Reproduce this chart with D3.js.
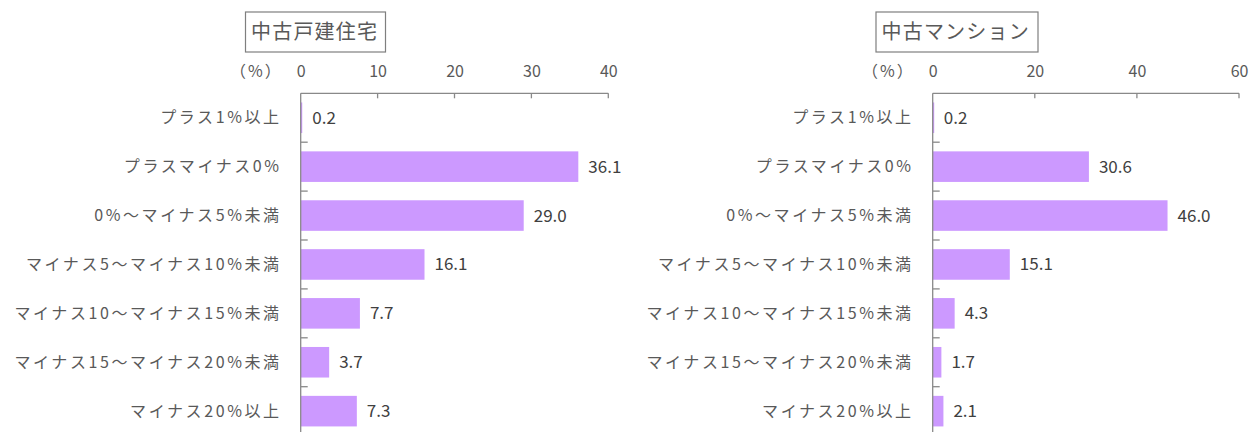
<!DOCTYPE html>
<html>
<head>
<meta charset="utf-8">
<script src="https://cdn.jsdelivr.net/npm/d3@7"></script>
<style>
  html, body { margin: 0; padding: 0; background: #fff; }
  svg { display: block; font-family: "Noto Sans CJK JP", "Noto Sans", sans-serif; }
</style>
</head>
<body>
<svg id="chart" width="1250" height="432"></svg>
<script>
// Price change categories (same for both panels)
const categories = [
  "プラス1%以上",
  "プラスマイナス0%",
  "0%〜マイナス5%未満",
  "マイナス5〜マイナス10%未満",
  "マイナス10〜マイナス15%未満",
  "マイナス15〜マイナス20%未満",
  "マイナス20%以上"
];

// Share of responses (%) per category
const detachedValues = [0.2, 36.1, 29.0, 16.1, 7.7, 3.7, 7.3];
const condoValues    = [0.2, 30.6, 46.0, 15.1, 4.3, 1.7, 2.1];

const detachedTicks = [0, 10, 20, 30, 40];
const condoTicks    = [0, 20, 40, 60];

const panelTitles = ["中古戸建住宅", "中古マンション"];
const unitLabel = "（%）";

const svg = d3.select("#chart");
const axisColor = "#898989";
const textColor = "#595959";
const valueColor = "#404040";
const barColor = "#CC99FF";

function drawPanel(cfg) {
  const g = svg.append("g");
  const x = d3.scaleLinear().domain([0, cfg.max]).range([cfg.x0, cfg.x1]);
  const y = d3.scaleBand().domain(categories).range([cfg.top, cfg.top + 7 * 48.9])
    .paddingInner(0.375).paddingOuter(0.1875);

  // title box
  g.append("rect")
    .attr("x", cfg.titleX + 0.5)
    .attr("y", 12)
    .attr("width", cfg.titleW)
    .attr("height", 40)
    .attr("fill", "#fff")
    .attr("stroke", "#7f7f7f")
    .attr("stroke-width", 1.2);
  g.append("text")
    .attr("x", cfg.titleX + 6)
    .attr("y", 38.5)
    .attr("font-size", 20)
    .attr("letter-spacing", 1.2)
    .attr("fill", textColor)
    .text(cfg.title);

  // unit label
  g.append("text")
    .attr("x", cfg.x0 - 18)
    .attr("y", 71)
    .attr("dy", "0.35em")
    .attr("text-anchor", "end")
    .attr("font-size", 16)
    .attr("letter-spacing", 2)
    .attr("fill", textColor)
    .text(unitLabel);

  // top value axis
  const xAxis = d3.axisTop(x).tickValues(cfg.ticks).tickSize(0).tickPadding(0).tickFormat(d3.format("d"));
  const xa = g.append("g").attr("transform", `translate(0,${cfg.top})`).call(xAxis);
  xa.select(".domain").remove();
  xa.selectAll("text")
    .attr("y", 71 - cfg.top)
    .attr("dy", "0.35em")
    .attr("font-size", 16)
    .attr("font-family", "\"Noto Sans CJK JP\", sans-serif")
    .attr("fill", textColor);
  g.append("line")
    .attr("x1", x(0)).attr("x2", x(cfg.max))
    .attr("y1", cfg.top).attr("y2", cfg.top)
    .attr("stroke", axisColor).attr("stroke-width", 1.3);
  g.selectAll("line.xtick").data(cfg.ticks.filter(d => d > 0)).join("line")
    .attr("class", "xtick")
    .attr("x1", d => x(d)).attr("x2", d => x(d))
    .attr("y1", cfg.top).attr("y2", cfg.top + 5)
    .attr("stroke", axisColor).attr("stroke-width", 1.3);

  // bars
  g.selectAll("rect.bar").data(cfg.values).join("rect")
    .attr("class", "bar")
    .attr("x", x(0))
    .attr("y", (d, i) => y(categories[i]))
    .attr("width", d => Math.max(x(d) - x(0), 1.5))
    .attr("height", y.bandwidth())
    .attr("fill", barColor);

  // category axis with boundary ticks
  const step = y.step();
  g.append("line")
    .attr("x1", x(0)).attr("x2", x(0))
    .attr("y1", cfg.top).attr("y2", cfg.top + 7 * step)
    .attr("stroke", axisColor).attr("stroke-width", 1.3);
  g.selectAll("line.ytick").data(d3.range(1, 8)).join("line")
    .attr("class", "ytick")
    .attr("x1", x(0)).attr("x2", x(0) + 7)
    .attr("y1", i => cfg.top + i * step).attr("y2", i => cfg.top + i * step)
    .attr("stroke", axisColor).attr("stroke-width", 1.3);

  // category labels
  g.selectAll("text.cat").data(categories).join("text")
    .attr("class", "cat")
    .attr("x", x(0) - 19)
    .attr("y", d => y(d) + y.bandwidth() / 2)
    .attr("dy", "0.35em")
    .attr("text-anchor", "end")
    .attr("font-size", 16)
    .attr("letter-spacing", 2.6)
    .attr("fill", textColor)
    .text(d => d);

  // value labels
  g.selectAll("text.val").data(cfg.values).join("text")
    .attr("class", "val")
    .attr("x", d => x(d) + 10)
    .attr("y", (d, i) => y(categories[i]) + y.bandwidth() / 2)
    .attr("dy", "0.35em")
    .attr("font-size", 17)
    .attr("fill", valueColor)
    .text(d => d.toFixed(1));
}

drawPanel({ title: panelTitles[0], values: detachedValues, ticks: detachedTicks, max: 40,
  x0: 300.7, x1: 608.3, top: 93.3, titleX: 245, titleW: 140 });
drawPanel({ title: panelTitles[1], values: condoValues, ticks: condoTicks, max: 60,
  x0: 932.7, x1: 1239, top: 93.3, titleX: 875.5, titleW: 162 });
</script>
</body>
</html>
